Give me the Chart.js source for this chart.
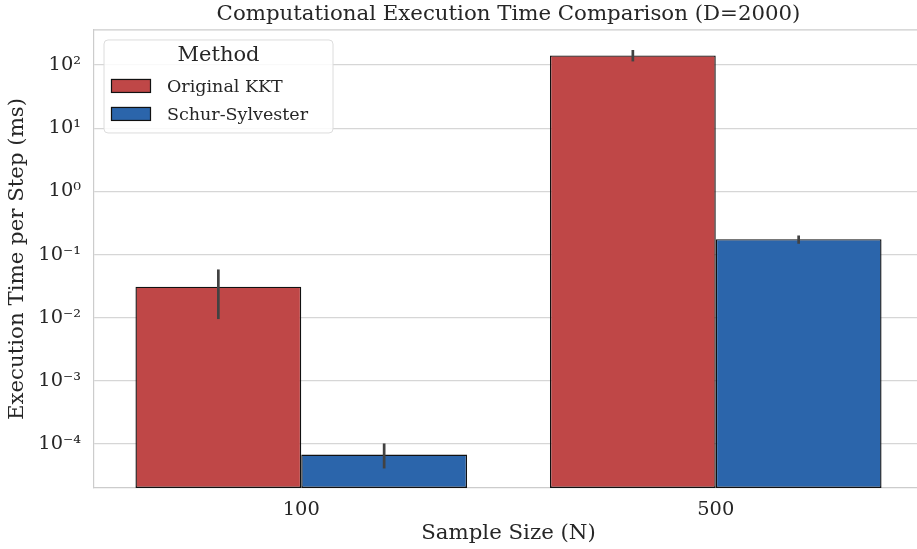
<!DOCTYPE html>
<html>
<head>
<meta charset="utf-8">
<script src="https://cdn.jsdelivr.net/npm/chart.js@4/dist/chart.umd.min.js"></script>
<style>
  html, body { margin: 0; padding: 0; background: #ffffff; overflow: hidden; }
  #wrap { width: 923px; height: 549px; }
</style>
</head>
<body>
<div id="wrap"><canvas id="c" width="923" height="549"></canvas></div>
<script>
// ---- data ----
const categories = ['100', '500'];
const seriesNames = ['Original KKT', 'Schur-Sylvester'];
const kktValues = [0.031, 142];
const schurValues = [6.8e-5, 0.175];
const kktErrLow = [0.0095, 114];
const kktErrHigh = [0.058, 173];
const schurErrLow = [4.1e-5, 0.148];
const schurErrHigh = [1.02e-4, 0.2];
const yTickValues = [1e-4, 1e-3, 1e-2, 1e-1, 1e0, 1e1, 1e2];
const yMin = 2.01e-5;
const yMax = 359;

const FONT = "'DejaVu Serif', serif";
const TEXT = '#262626';
const colors = ['#bf4747', '#2b65ab'];
const errLow = [kktErrLow, schurErrLow];
const errHigh = [kktErrHigh, schurErrHigh];

const sup = {'-':'\u207B','0':'\u2070','1':'\u00B9','2':'\u00B2','3':'\u00B3','4':'\u2074','5':'\u2075','6':'\u2076','7':'\u2077','8':'\u2078','9':'\u2079'};
function powLabel(v) {
  const e = String(Math.round(Math.log10(v)));
  return '10' + e.split('').map(c => sup[c]).join('');
}

const errorBarPlugin = {
  id: 'errorBars',
  afterDatasetsDraw(chart) {
    const ctx = chart.ctx;
    const y = chart.scales.y;
    ctx.save();
    ctx.strokeStyle = '#424242';
    ctx.lineWidth = 2.7;
    chart.data.datasets.forEach((ds, i) => {
      const meta = chart.getDatasetMeta(i);
      meta.data.forEach((el, j) => {
        ctx.beginPath();
        ctx.moveTo(el.x, y.getPixelForValue(errLow[i][j]));
        ctx.lineTo(el.x, y.getPixelForValue(errHigh[i][j]));
        ctx.stroke();
      });
    });
    ctx.restore();
  }
};

const frameLegendPlugin = {
  id: 'frameLegend',
  beforeDatasetsDraw(chart) {
    const ctx = chart.ctx;
    const a = chart.chartArea;
    ctx.save();
    ctx.strokeStyle = '#cccccc';
    ctx.lineWidth = 1.2;
    ctx.beginPath();
    ctx.moveTo(a.left, a.top);
    ctx.lineTo(a.right, a.top);
    ctx.stroke();
    ctx.restore();
  },
  afterDraw(chart) {
    const ctx = chart.ctx;
    const a = chart.chartArea;
    const x0 = a.left + 10, y0 = a.top + 10, w = 229, h = 93, r = 4;
    ctx.save();
    ctx.beginPath();
    ctx.moveTo(x0 + r, y0);
    ctx.arcTo(x0 + w, y0, x0 + w, y0 + h, r);
    ctx.arcTo(x0 + w, y0 + h, x0, y0 + h, r);
    ctx.arcTo(x0, y0 + h, x0, y0, r);
    ctx.arcTo(x0, y0, x0 + w, y0, r);
    ctx.closePath();
    ctx.fillStyle = 'rgba(255,255,255,0.85)';
    ctx.fill();
    ctx.strokeStyle = '#dcdcdc';
    ctx.lineWidth = 1;
    ctx.stroke();
    ctx.fillStyle = TEXT;
    ctx.textBaseline = 'middle';
    ctx.textAlign = 'center';
    ctx.font = '21px ' + FONT;
    ctx.fillText('Method', x0 + w / 2, y0 + 16);
    ctx.font = '17.5px ' + FONT;
    ctx.textAlign = 'left';
    chart.data.datasets.forEach((ds, i) => {
      const cy = y0 + 46 + i * 28;
      ctx.fillStyle = ds.backgroundColor;
      ctx.fillRect(x0 + 7, cy - 7, 40, 14);
      ctx.strokeStyle = '#111111';
      ctx.lineWidth = 1.2;
      ctx.strokeRect(x0 + 7.5, cy - 6.5, 39, 13);
      ctx.fillStyle = TEXT;
      ctx.fillText(ds.label, x0 + 63, cy + 1);
    });
    ctx.restore();
  }
};

new Chart(document.getElementById('c'), {
  type: 'bar',
  data: {
    labels: categories,
    datasets: [
      { label: seriesNames[0], data: kktValues, backgroundColor: colors[0], borderColor: '#111111', borderWidth: 1.4, borderSkipped: false },
      { label: seriesNames[1], data: schurValues, backgroundColor: colors[1], borderColor: '#111111', borderWidth: 1.4, borderSkipped: false }
    ]
  },
  options: {
    responsive: false,
    animation: false,
    layout: { padding: 0 },
    datasets: { bar: { categoryPercentage: 0.8, barPercentage: 1.0 } },
    plugins: {
      legend: { display: false },
      tooltip: { enabled: false },
      title: {
        display: true,
        fullSize: false,
        text: 'Computational Execution Time Comparison (D=2000)',
        color: TEXT,
        font: { family: FONT, size: 21.3, weight: 'normal' },
        padding: { top: 1.5, bottom: 2.9 }
      }
    },
    scales: {
      x: {
        grid: { display: false, drawTicks: false },
        border: { display: true, color: '#cccccc', width: 1.2 },
        ticks: { color: TEXT, font: { family: FONT, size: 19.4 }, padding: 10.5 },
        title: { display: true, text: 'Sample Size (N)', color: TEXT, font: { family: FONT, size: 21.3 }, padding: { top: 0, bottom: 3.2 } },
        afterFit(s) { s.height = 61; }
      },
      y: {
        type: 'logarithmic',
        min: yMin,
        max: yMax,
        grid: { color: '#d6d6d6', lineWidth: 1.2, drawTicks: false },
        border: { display: true, color: '#cccccc', width: 1.2 },
        afterBuildTicks(s) { s.ticks = yTickValues.map(v => ({ value: v })); },
        ticks: { color: TEXT, font: { family: FONT, size: 19.4 }, padding: 13, callback: (v) => powLabel(v) },
        title: { display: true, text: 'Execution Time per Step (ms)', color: TEXT, font: { family: FONT, size: 21.3 }, padding: { top: 4.7, bottom: 0 } },
        afterFit(s) { s.width = 94; }
      }
    }
  },
  plugins: [errorBarPlugin, frameLegendPlugin]
});
</script>
</body>
</html>
